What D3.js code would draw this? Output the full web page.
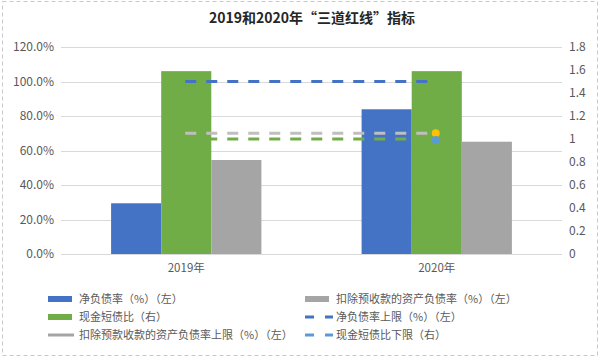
<!DOCTYPE html>
<html><head><meta charset="utf-8">
<script src="https://cdn.jsdelivr.net/npm/d3@7"></script>
<style>
body{margin:0;background:#fff;}
svg{display:block;font-family:"Noto Sans CJK SC","Noto Sans",sans-serif;}
</style></head>
<body><svg id="c" width="600" height="358"></svg>
<script>
const categories = ["2019年", "2020年"];
const netDebtRatio = [0.294, 0.839];          // 净负债率（%）（左）
const cashShortDebt = [1.59, 1.59];           // 现金短债比（右）
const assetLiabRatio = [0.545, 0.651];        // 扣除预收款的资产负债率（%）（左）
const netDebtCap = [1.0, 1.0];                // 净负债率上限
const assetLiabCap = [0.7, 0.7];              // 扣除预款收款的资产负债率上限
const cashShortDebtFloor = [1.0, 1.0];        // 现金短债比下限（右）
const leftTicks = [0, 0.2, 0.4, 0.6, 0.8, 1.0, 1.2];
const rightTicks = [0, 0.2, 0.4, 0.6, 0.8, 1, 1.2, 1.4, 1.6, 1.8];
const title = "2019和2020年“三道红线”指标";

const C = {blue:"#4472C4", green:"#70AD47", gray:"#A5A5A5", lgray:"#BFBFBF", yellow:"#FFC000", lblue:"#5B9BD5", text:"#595959", grid:"#D9D9D9"};

const svg = d3.select("#c");
svg.append("rect").attr("x",2.5).attr("y",1.5).attr("width",595).attr("height",354)
  .attr("fill","#fff").attr("stroke","#C8C8C8").attr("stroke-dasharray","4,3");

const x = d3.scaleBand().domain(categories).range([61, 562]);
const yL = d3.scaleLinear().domain([0, 1.2]).range([254, 47]);
const yR = d3.scaleLinear().domain([0, 1.8]).range([254, 47]);
const barW = x.bandwidth() * 0.2;

svg.append("text").attr("x", 312).attr("y", 23).attr("text-anchor","middle")
  .attr("font-size", 14).attr("font-weight","bold").attr("fill","#262626").text(title);

// grid
svg.append("g").selectAll("line").data(leftTicks).join("line")
  .attr("x1", 61).attr("x2", 562).attr("y1", d=>Math.round(yL(d))+0.5).attr("y2", d=>Math.round(yL(d))+0.5)
  .attr("stroke", C.grid).attr("stroke-width",1);

// axes
const axL = svg.append("g").attr("transform","translate(54,0)")
  .call(d3.axisLeft(yL).tickValues(leftTicks).tickSize(0).tickPadding(0).tickFormat(d3.format(".1%")));
const axR = svg.append("g").attr("transform","translate(569,0)")
  .call(d3.axisRight(yR).tickValues(rightTicks).tickSize(0).tickPadding(0).tickFormat(d=>d3.format("~g")(d)));
const axB = svg.append("g").attr("transform","translate(0,258)")
  .call(d3.axisBottom(x).tickSize(0).tickPadding(6));
[axL, axR, axB].forEach(a=>{
  a.select(".domain").remove();
  a.selectAll("text").attr("font-size",12).attr("fill",C.text)
    .attr("font-family","'Noto Sans CJK SC','Noto Sans',sans-serif");
});
axB.selectAll("text").attr("font-size",11.5);

// bars
const off = (x.bandwidth() - 3*barW)/2;
const g = svg.append("g");
g.selectAll(".b1").data(netDebtRatio).join("rect")
  .attr("x",(d,i)=>x(categories[i])+off).attr("width",barW)
  .attr("y",d=>yL(d)).attr("height",d=>yL(0)-yL(d)).attr("fill",C.blue);
g.selectAll(".b2").data(cashShortDebt).join("rect")
  .attr("x",(d,i)=>x(categories[i])+off+barW).attr("width",barW)
  .attr("y",d=>yR(d)).attr("height",d=>yR(0)-yR(d)).attr("fill",C.green);
g.selectAll(".b3").data(assetLiabRatio).join("rect")
  .attr("x",(d,i)=>x(categories[i])+off+2*barW).attr("width",barW)
  .attr("y",d=>yL(d)).attr("height",d=>yL(0)-yL(d)).attr("fill",C.gray);

// dashed lines
const cx = i => x(categories[i]) + x.bandwidth()/2 - 1;
function dline(data, ys, color){
  svg.append("path").datum(data)
    .attr("d", d3.line().x((d,i)=>cx(i)).y(d=>ys(d)))
    .attr("fill","none").attr("stroke",color).attr("stroke-width",3)
    .attr("stroke-dasharray","11,10");
}
dline(netDebtCap, yL, C.blue);
dline(assetLiabCap, yL, C.lgray);
dline(cashShortDebtFloor, yR, C.green);
svg.append("circle").attr("cx",cx(1)).attr("cy",yL(assetLiabCap[1])).attr("r",4).attr("fill",C.yellow);
svg.append("circle").attr("cx",cx(1)).attr("cy",yR(cashShortDebtFloor[1])+1).attr("r",4).attr("fill",C.lblue);

// legend
const legend = [
  {x:48, y:299, type:"rect", color:C.blue, label:"净负债率（%）（左）"},
  {x:48, y:317, type:"rect", color:C.green, label:"现金短债比（右）"},
  {x:48, y:335, type:"line", color:C.gray, label:"扣除预款收款的资产负债率上限（%）（左）"},
  {x:305, y:299, type:"rect", color:C.gray, label:"扣除预收款的资产负债率（%）（左）"},
  {x:305, y:317, type:"dash", color:C.blue, label:"净负债率上限（%）（左）"},
  {x:305, y:335, type:"dash", color:C.lblue, label:"现金短债比下限（右）"}
];
const lg = svg.append("g").selectAll("g").data(legend).join("g")
  .attr("transform", d=>`translate(${d.x},${d.y})`);
lg.each(function(d){
  const s = d3.select(this);
  if (d.type==="rect") s.append("rect").attr("x",0).attr("y",-3).attr("width",24).attr("height",6).attr("fill",d.color);
  else if (d.type==="line") s.append("line").attr("x1",0).attr("x2",26).attr("y1",0).attr("y2",0).attr("stroke",d.color).attr("stroke-width",3);
  else s.append("line").attr("x1",0).attr("x2",28).attr("y1",0).attr("y2",0).attr("stroke",d.color).attr("stroke-width",3).attr("stroke-dasharray","9,11");
  s.append("text").attr("x",31).attr("y",0).attr("dy","0.35em").attr("font-size",11).attr("fill",C.text).text(d.label);
});
</script></body></html>
